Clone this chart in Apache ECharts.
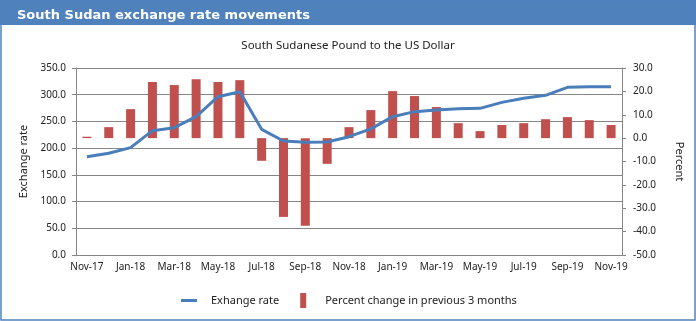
<!DOCTYPE html>
<html>
<head>
<meta charset="utf-8">
<script src="https://cdn.jsdelivr.net/npm/echarts@6/dist/echarts.min.js"></script>
<style>
html,body{margin:0;padding:0;background:#fff;}
#c{width:696px;height:321px;}
</style>
</head>
<body>
<div id="c"></div>
<script>
var months = ["Nov-17","Dec-17","Jan-18","Feb-18","Mar-18","Apr-18","May-18","Jun-18","Jul-18","Aug-18","Sep-18","Oct-18","Nov-18","Dec-18","Jan-19","Feb-19","Mar-19","Apr-19","May-19","Jun-19","Jul-19","Aug-19","Sep-19","Oct-19","Nov-19"];
var exchangeRate = [184.0,190.3,200.9,232.7,238.3,258.9,296.3,305.7,235.2,213.4,210.9,211.5,221.4,236.0,258.9,268.3,271.4,273.9,274.5,285.7,293.2,298.8,313.8,315.1,315.1];
var pctChange3m = [0.6,4.7,12.4,24.0,22.7,25.2,24.0,24.8,-9.7,-33.7,-37.5,-11.0,4.7,12.0,20.1,18.0,13.3,6.4,3.0,5.6,6.4,8.1,9.0,7.7,5.6];
var leftTicks = {min:0, max:350, interval:50};
var rightTicks = {min:-50, max:30, interval:10};

var font = "Noto Sans";
var chart = echarts.init(document.getElementById('c'), null, {renderer:'canvas'});
chart.setOption({
  animation:false,
  backgroundColor:'#ffffff',
  graphic:[
    {type:'rect', left:0, top:0, shape:{x:0,y:0,width:696,height:25}, style:{fill:'#4f81bd'}, z:0},
    {type:'rect', shape:{x:1,y:1,width:694,height:319}, style:{fill:null, stroke:'#4f81bd', lineWidth:1.5}, z:0}
  ],
  title:[
    {text:'South Sudan exchange rate movements', left:12, top:4,
     textStyle:{color:'#ffffff', fontFamily:'DejaVu Sans', fontWeight:'bold', fontSize:13}},
    {text:'South Sudanese Pound to the US Dollar', left:'center', top:35,
     textStyle:{color:'#222', fontFamily:font, fontWeight:'normal', fontSize:11.5}}
  ],
  legend:{
    bottom:8, left:176, itemGap:21, itemWidth:16, itemHeight:15,
    textStyle:{fontFamily:font, fontSize:11, color:'#222', padding:[0,0,0,9]},
    data:[
      {name:'Exhange rate', icon:'path://M0,0h16v3h-16z'},
      {name:'Percent change in previous 3 months', icon:'path://M0,0h6v15h-6z'}
    ]
  },
  grid:{left:76, right:74, top:68, bottom:66},
  xAxis:{
    type:'category', data:months, boundaryGap:true,
    axisLine:{lineStyle:{color:'#868686'}},
    axisTick:{interval:1, length:4, lineStyle:{color:'#868686'}},
    axisLabel:{interval:1, margin:7, fontFamily:font, fontSize:10, color:'#222'}
  },
  yAxis:[
    {type:'value', min:leftTicks.min, max:leftTicks.max, interval:leftTicks.interval,
     name:'Exchange rate', nameLocation:'middle', nameGap:47, nameRotate:90,
     nameTextStyle:{fontFamily:font, fontSize:11, color:'#222'},
     axisLine:{show:true, lineStyle:{color:'#868686'}},
     axisTick:{show:true, length:4, lineStyle:{color:'#868686'}},
     splitLine:{lineStyle:{color:'#868686'}},
     axisLabel:{margin:10, fontFamily:font, fontSize:10, color:'#222', formatter:function(v){return v.toFixed(1);}}
    },
    {type:'value', position:'right', min:rightTicks.min, max:rightTicks.max, interval:rightTicks.interval,
     name:'Percent', nameLocation:'middle', nameGap:52, nameRotate:-90,
     nameTextStyle:{fontFamily:font, fontSize:11, color:'#222'},
     axisLine:{show:true, lineStyle:{color:'#868686'}},
     axisTick:{show:true, length:4, lineStyle:{color:'#868686'}},
     splitLine:{show:false},
     axisLabel:{margin:11, fontFamily:font, fontSize:10, color:'#222', formatter:function(v){return v.toFixed(1);}}
    }
  ],
  series:[
    {name:'Exhange rate', type:'line', yAxisIndex:0, data:exchangeRate, showSymbol:false, symbol:'none',
     lineStyle:{color:'#4a7ebb', width:3}, itemStyle:{color:'#4a7ebb'}, z:3},
    {name:'Percent change in previous 3 months', type:'bar', yAxisIndex:1, data:pctChange3m, barWidth:9,
     itemStyle:{color:'#c0504d'}, z:2}
  ]
});
</script>
</body>
</html>
